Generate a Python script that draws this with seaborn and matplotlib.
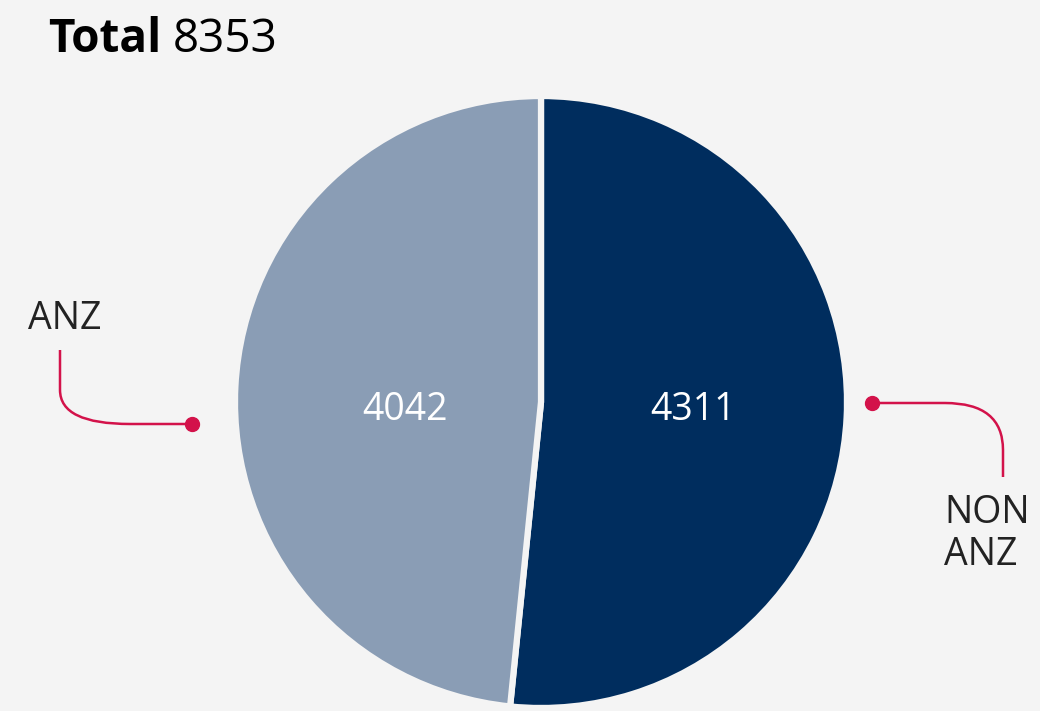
import matplotlib
matplotlib.use("Agg")
import matplotlib.pyplot as plt
import seaborn as sns
from matplotlib.path import Path
from matplotlib.patches import PathPatch

# ---- data ----
categories = ["NON ANZ", "ANZ"]
values = [4311, 4042]
total_label = "Total"
label_texts = ["NON\nANZ", "ANZ"]

# ---- style ----
sns.set_theme(style="white")
plt.rcParams['font.family'] = ['Open Sans', 'DejaVu Sans']
BG = "#F4F4F4"
colors = ["#002D5E", "#8A9DB5"]
RED = "#D3124A"

W, H = 1040, 711
fig = plt.figure(figsize=(W / 100, H / 100), dpi=100, facecolor=BG)
ax = fig.add_axes([0, 0, 1, 1])
ax.set_facecolor(BG)

def Y(py):
    return H - py

cx, cy, r = 541, 402, 306
wedges, _ = ax.pie(values, colors=colors, startangle=90, counterclock=False,
                   center=(cx, Y(cy)), radius=r,
                   wedgeprops=dict(edgecolor=BG, linewidth=4.5))
ax.set_xlim(0, W)
ax.set_ylim(0, H)
ax.set_aspect("equal")
ax.axis("off")

# value labels
ax.text(693, Y(410), f"{values[0]}", color="white", fontsize=27, ha="center", va="center")
ax.text(405, Y(410), f"{values[1]}", color="white", fontsize=27, ha="center", va="center")

# title
ax.text(48, Y(52), total_label, fontsize=33, fontweight="bold", color="black",
        ha="left", va="baseline")
ax.text(173, Y(52), f"{sum(values)}", fontsize=33, color="black",
        ha="left", va="baseline")

# category labels
ax.text(28, Y(329), label_texts[1], fontsize=27, color="#222222", ha="left", va="baseline")
ax.text(944, Y(565), label_texts[0], fontsize=27, color="#222222", ha="left",
        va="baseline", linespacing=1.15)

# connectors
def connector(verts, codes):
    p = Path([(x, Y(y)) for x, y in verts], codes)
    ax.add_patch(PathPatch(p, facecolor="none", edgecolor=RED, lw=1.8))

connector([(60, 350), (60, 390), (60, 424), (130, 424), (192, 424)],
          [Path.MOVETO, Path.LINETO, Path.CURVE3, Path.CURVE3, Path.LINETO])
ax.plot([192], [Y(424)], "o", color=RED, ms=10)

connector([(872, 403), (945, 403), (1003, 403), (1003, 450), (1003, 477)],
          [Path.MOVETO, Path.LINETO, Path.CURVE3, Path.CURVE3, Path.LINETO])
ax.plot([872], [Y(403)], "o", color=RED, ms=10)

fig.savefig("out.png", dpi=100, facecolor=BG)
